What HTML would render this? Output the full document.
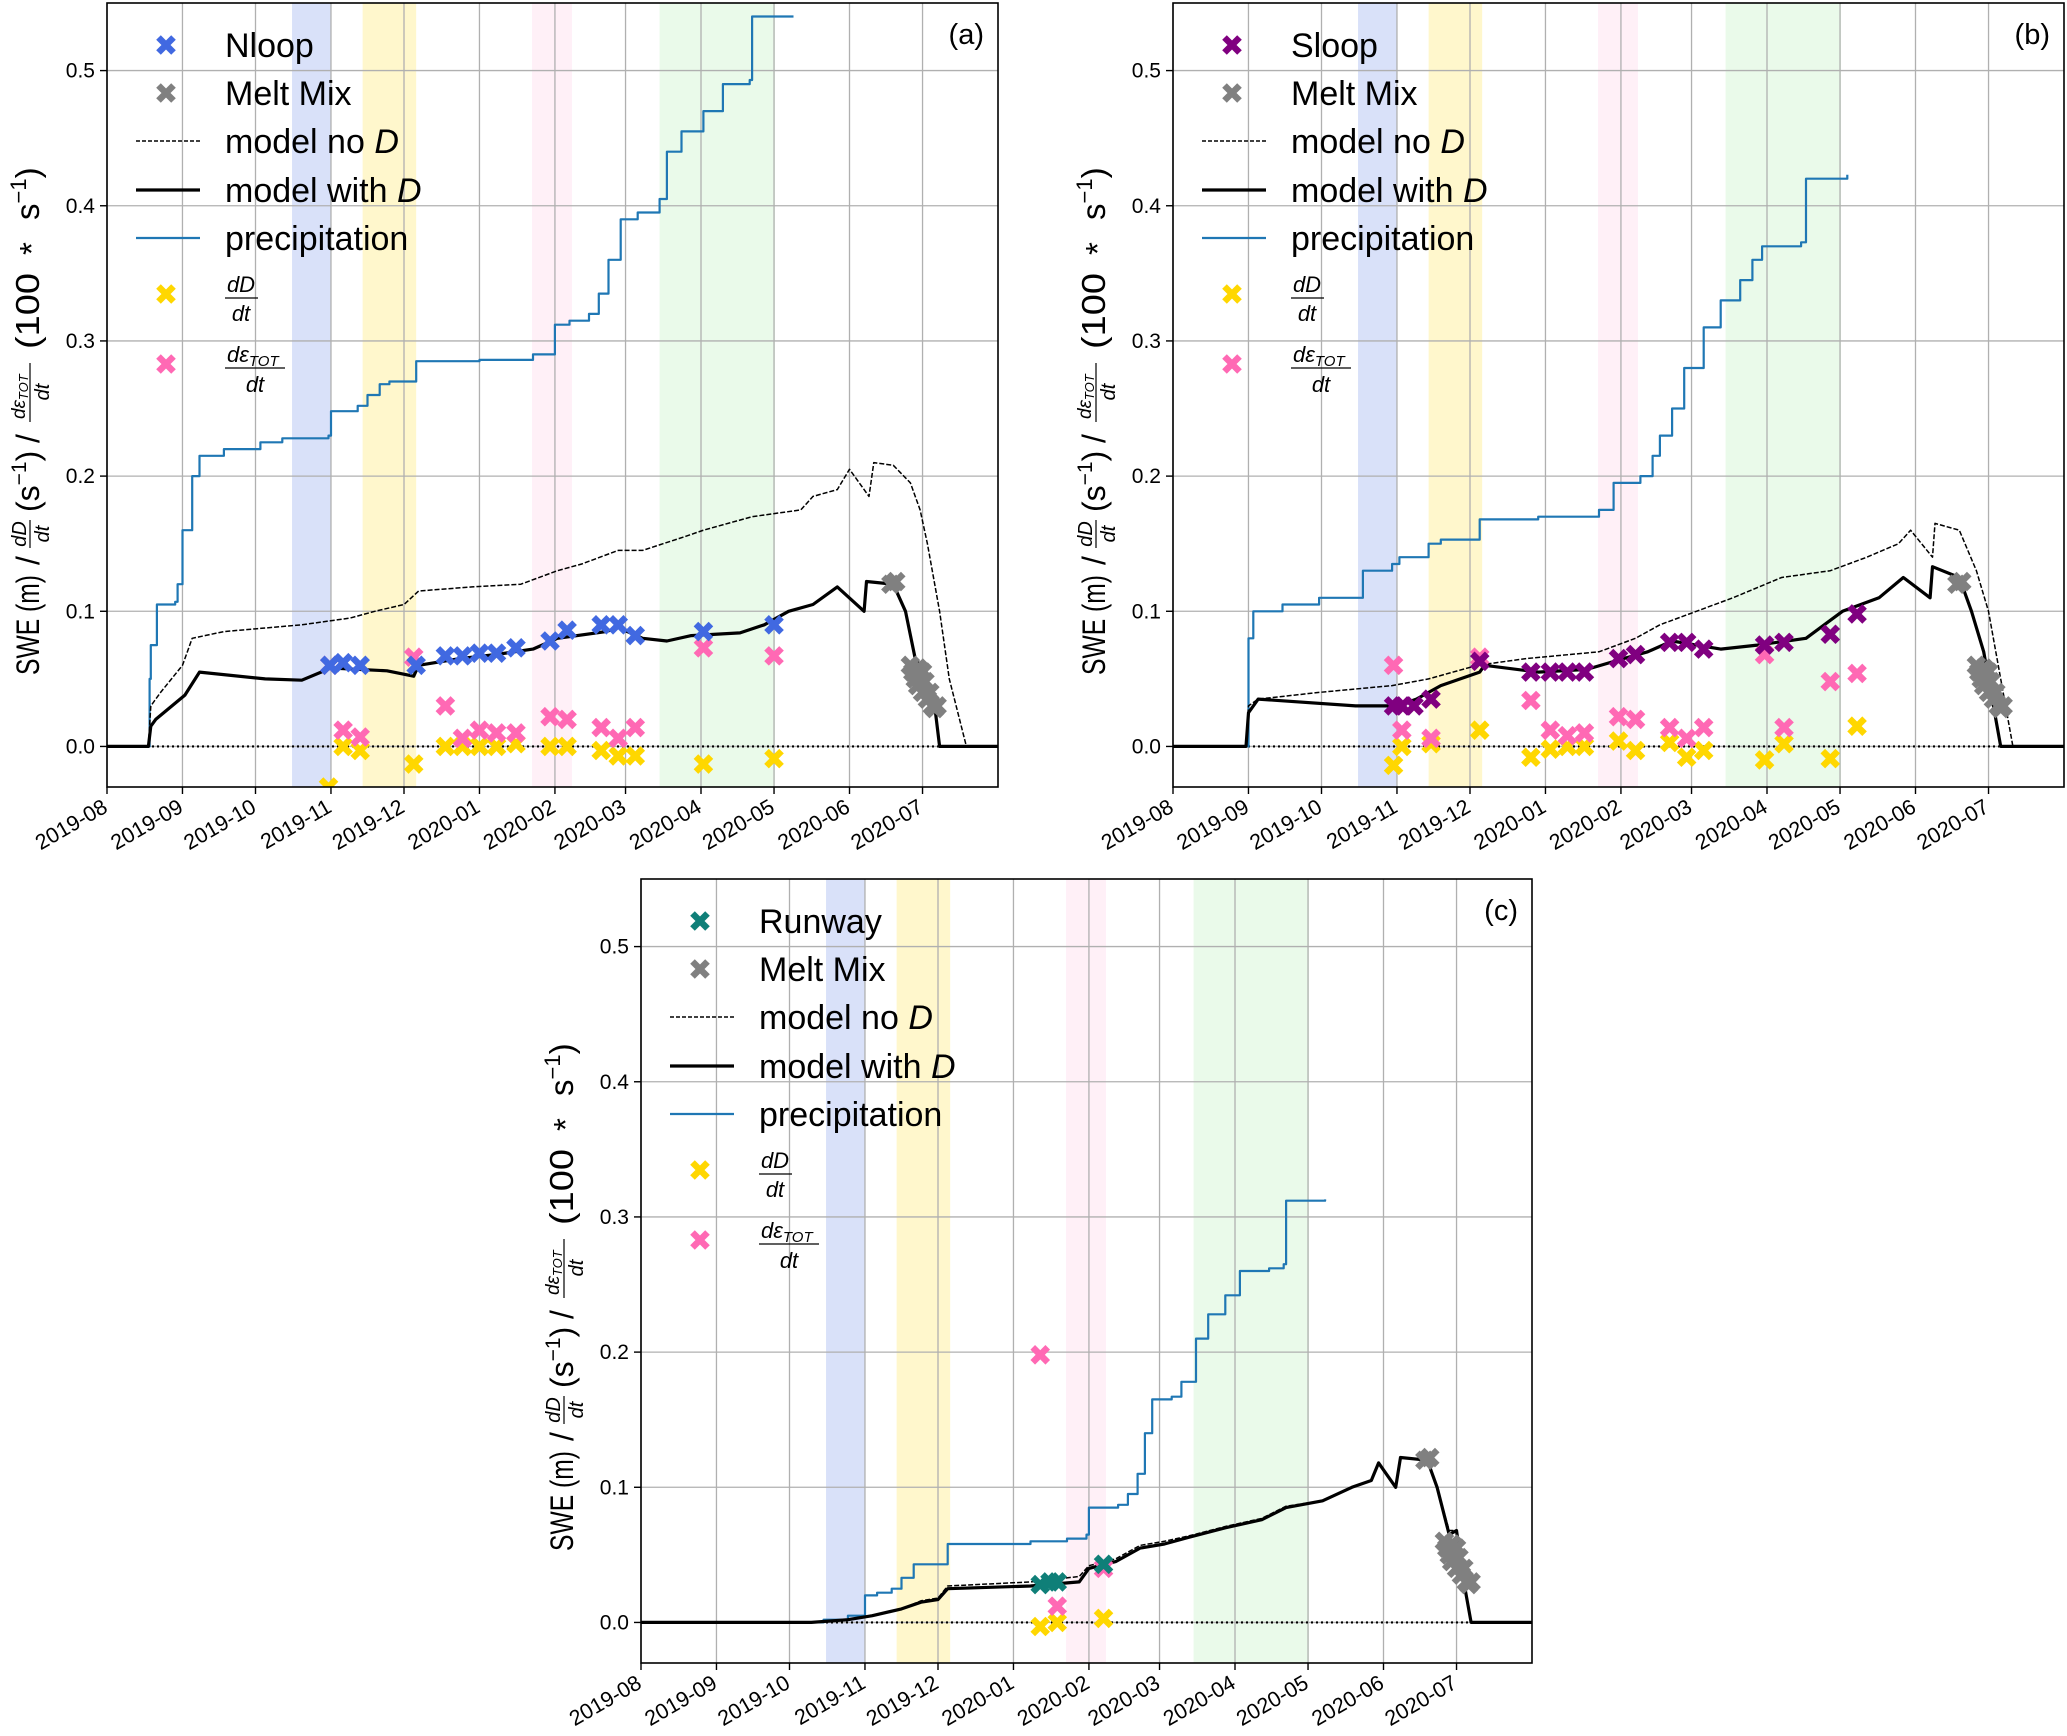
<!DOCTYPE html>
<html><head><meta charset="utf-8"><style>
html,body{margin:0;padding:0;background:#fff;}
svg{display:block;font-family:"Liberation Sans","DejaVu Sans",sans-serif;}
</style></head><body>
<svg id="fig" width="2067" height="1736" viewBox="0 0 2067 1736" xmlns="http://www.w3.org/2000/svg"></svg>
<script>
// ---- shared ----
const monthLabels = ["2019-08","2019-09","2019-10","2019-11","2019-12","2020-01","2020-02","2020-03","2020-04","2020-05","2020-06","2020-07"];
const monthDays = [0,31,61,92,122,153,184,213,244,274,305,335];
const yTicks = [0.0,0.1,0.2,0.3,0.4,0.5];
const bandStart = [76,105,174.6,227];
const bandEnd = [92,127,191,274.4];
const bandColors = ["rgba(65,105,225,0.2)","rgba(255,215,0,0.2)","rgba(255,105,180,0.1)","rgba(50,205,50,0.1)"];
const meltDays = [322,324,330,331,332,333,333,334,335,335,336,337,338,339,340,341];
const meltVals = [0.12,0.122,0.06,0.055,0.05,0.045,0.058,0.05,0.055,0.04,0.048,0.035,0.04,0.03,0.028,0.03];

// ---- panel a ----
const aPrecipDays = [0,17,17.5,18,20.5,28,29,31,35,38,48,63,72,91,92,103,107,112,116,127,153,175,184,190,198,202,206,211,218,227,230,236,245,253,264,265,282];
const aPrecipVals = [0,0,0.05,0.075,0.105,0.107,0.12,0.16,0.2,0.215,0.22,0.225,0.228,0.23,0.248,0.252,0.26,0.268,0.27,0.285,0.286,0.29,0.312,0.315,0.32,0.335,0.36,0.39,0.395,0.405,0.44,0.455,0.47,0.49,0.493,0.54,0.54];
const aNoDDays = [0,17,18,22,31,35,48,80,100,110,122,128,150,170,185,195,210,220,237,245,265,285,290,300,305,313,315,323,330,334,337,342,346,353,366];
const aNoDVals = [0,0,0.03,0.04,0.06,0.08,0.085,0.09,0.095,0.1,0.105,0.115,0.118,0.12,0.13,0.135,0.145,0.145,0.155,0.16,0.17,0.175,0.185,0.19,0.205,0.185,0.21,0.208,0.195,0.175,0.15,0.1,0.05,0,0];
const aWithDDays = [0,17,18,20,32,38,65,80,92,115,126,128,145,160,175,185,205,210,220,230,240,260,270,280,290,300,311,312,323,328,332,336,340,342,366];
const aWithDVals = [0,0,0.015,0.02,0.038,0.055,0.05,0.049,0.058,0.056,0.052,0.06,0.065,0.068,0.072,0.08,0.085,0.088,0.08,0.078,0.082,0.084,0.09,0.1,0.105,0.118,0.1,0.122,0.12,0.1,0.065,0.055,0.03,0,0];
const aSiteDays = [91.5,97,104,127,139,146,153,160,168,182,189,203,210,217,245,274];
const aSiteVals = [0.06,0.062,0.06,0.06,0.067,0.067,0.069,0.069,0.073,0.078,0.086,0.09,0.09,0.082,0.085,0.09];
const aPinkDays = [91.5,97,104,126,139,146,153,160,168,182,189,203,210,217,245,274];
const aPinkVals = [0.06,0.012,0.007,0.066,0.03,0.006,0.012,0.01,0.01,0.022,0.02,0.014,0.006,0.014,0.073,0.067];
const aYellowDays = [91,97,104,126,139,146,153,160,168,182,189,203,210,217,245,274];
const aYellowVals = [-0.03,0,-0.003,-0.013,0,0,0,0,0.002,0,0,-0.003,-0.007,-0.007,-0.013,-0.009];

// ---- panel b ----
const bPrecipDays = [0,30,31,33,45,60,78,90,93,105,110,126,150,175,181,192,197,200,205,210,218,225,233,238,242,258,260,277];
const bPrecipVals = [0,0,0.08,0.1,0.105,0.11,0.13,0.135,0.14,0.15,0.153,0.168,0.17,0.175,0.195,0.2,0.215,0.23,0.25,0.28,0.31,0.33,0.345,0.36,0.37,0.373,0.42,0.423];
const bNoDDays = [0,30,31,35,60,90,105,125,145,175,190,200,215,230,250,270,285,298,303,312,313,323,330,335,340,345,366];
const bNoDVals = [0,0,0.03,0.035,0.04,0.045,0.05,0.06,0.065,0.07,0.08,0.09,0.1,0.11,0.125,0.13,0.14,0.15,0.16,0.14,0.165,0.16,0.13,0.1,0.05,0,0];
const bWithDDays = [0,30,31,35,75,92,100,110,126,128,150,170,185,195,205,215,225,240,260,275,290,300,311,312,323,328,333,336,340,366];
const bWithDVals = [0,0,0.025,0.035,0.03,0.03,0.035,0.045,0.055,0.06,0.055,0.057,0.065,0.07,0.078,0.075,0.072,0.075,0.08,0.1,0.11,0.125,0.11,0.133,0.125,0.1,0.07,0.04,0,0];
const bSiteDays = [90.6,94,99,106,126,147,155,162,169,183,190,204,211,218,243,251,270,281];
const bSiteVals = [0.03,0.03,0.03,0.035,0.063,0.055,0.055,0.055,0.055,0.065,0.068,0.077,0.077,0.072,0.075,0.077,0.083,0.098];
const bPinkDays = [90.6,94,106,126,147,155,162,169,183,190,204,211,218,243,251,270,281];
const bPinkVals = [0.06,0.012,0.006,0.066,0.034,0.012,0.008,0.01,0.022,0.02,0.014,0.006,0.014,0.068,0.014,0.048,0.054];
const bYellowDays = [90.6,94,106,126,147,155,162,169,183,190,204,211,218,243,251,270,281];
const bYellowVals = [-0.014,0,0.002,0.012,-0.008,-0.002,0,0,0.004,-0.003,0.003,-0.008,-0.003,-0.01,0.002,-0.009,0.015];

// ---- panel c ----
const cPrecipDays = [0,70,75,85,91.5,92,97,103,107,112,122,126,160,175,183,184,196,200,204,207,210,218,222,228,233,240,246,258,264,265,281];
const cPrecipVals = [0,0,0.002,0.005,0.005,0.02,0.022,0.025,0.033,0.043,0.043,0.058,0.06,0.062,0.065,0.085,0.087,0.095,0.11,0.14,0.165,0.167,0.178,0.21,0.228,0.242,0.26,0.262,0.265,0.312,0.313];
const cNoDDays = [0,70,85,95,107,115,122,126,160,180,184,195,205,215,225,240,255,265,280,292,300,303,310,312,323,327,332,335,338,341,366];
const cNoDVals = [0,0,0.002,0.005,0.01,0.016,0.018,0.027,0.03,0.034,0.042,0.047,0.057,0.06,0.064,0.071,0.077,0.086,0.09,0.1,0.105,0.118,0.1,0.122,0.12,0.1,0.068,0.068,0.03,0,0];
const cWithDDays = [0,70,85,95,107,115,122,126,160,180,184,195,205,215,225,240,255,265,280,292,300,303,310,312,323,327,332,335,338,341,366];
const cWithDVals = [0,0,0.002,0.005,0.01,0.015,0.017,0.025,0.027,0.03,0.04,0.045,0.055,0.058,0.063,0.07,0.076,0.085,0.09,0.1,0.105,0.118,0.1,0.122,0.12,0.1,0.065,0.068,0.03,0,0];
const cSiteDays = [164,168,171,190];
const cSiteVals = [0.028,0.03,0.03,0.043];
const cPinkDays = [164,171,190];
const cPinkVals = [0.198,0.012,0.04];
const cYellowDays = [164,171,190];
const cYellowVals = [-0.003,0,0.003];

const NS = "http://www.w3.org/2000/svg";
const fig = document.getElementById('fig');
function mk(tag, attrs, parent){
  const e = document.createElementNS(NS, tag);
  for (const k in attrs) e.setAttribute(k, attrs[k]);
  (parent||fig).appendChild(e);
  return e;
}

function drawPanel(p){
  const L=p.left, T=p.top, W=891, H=784;
  const xs = d => L + d*W/366;
  const ys = v => T + (0.55 - v)/0.58*H;
  const g = mk('g',{});
  
  
  const clipId = 'clip'+p.id;
  const cp = mk('clipPath',{id:clipId},g);
  mk('rect',{x:L,y:T,width:W,height:H},cp);
  for (let i=0;i<bandStart.length;i++){
    const r = mk('rect',{x:xs(bandStart[i]),y:T,width:xs(bandEnd[i])-xs(bandStart[i]),height:H,fill:bandColors[i]},g);
    
    
  }
  monthDays.forEach(d=>{
    const l = mk('line',{x1:xs(d),x2:xs(d),y1:T,y2:T+H,stroke:'#b0b0b0','stroke-width':1.3},g);
    
    
  });
  yTicks.forEach(v=>{
    const l = mk('line',{x1:L,x2:L+W,y1:ys(v),y2:ys(v),stroke:'#b0b0b0','stroke-width':1.3},g);
    
    
  });
  const z = mk('line',{x1:L,x2:L+W,y1:ys(0),y2:ys(0),stroke:'#000','stroke-width':2.2,'stroke-dasharray':'2,3'},g);
  
  
  const cg = mk('g',{'clip-path':'url(#'+clipId+')'},g);
  function line(days, vals, attrs, name, step){
    let pts = [];
    days.forEach((d,i)=>{
      if (step && i>0) pts.push(xs(d).toFixed(1)+','+ys(vals[i-1]).toFixed(1));
      pts.push(xs(d).toFixed(1)+','+ys(vals[i]).toFixed(1));
    });
    const el = mk('polyline', Object.assign({points:pts.join(' '),fill:'none','stroke-linejoin':'round'},attrs), cg);
    
    
  }
  line(p.precipDays,p.precipVals,{stroke:'#1f77b4','stroke-width':2.2},'precipitation-line',true);
  line(p.noDDays,p.noDVals,{stroke:'#000','stroke-width':1.5,'stroke-dasharray':'5,2'},'model-no-d-line',false);
  line(p.withDDays,p.withDVals,{stroke:'#000','stroke-width':3.2},'model-with-d-line',false);
  function marks(days, vals, color, name){
    days.forEach((d,i)=>{
      const x=xs(d), y=ys(vals[i]), s=7.5;
      const m = mk('path',{d:`M${x-s},${y-s}L${x+s},${y+s}M${x-s},${y+s}L${x+s},${y-s}`,stroke:color,'stroke-width':6.5,fill:'none'},cg);
      
      
    });
  }
  marks(p.yellowDays,p.yellowVals,'#ffd700','dd-dt-marker');
  marks(p.pinkDays,p.pinkVals,'#ff69b4','deps-dt-marker');
  marks(meltDays,meltVals,'#808080','melt-mix-marker');
  marks(p.siteDays,p.siteVals,p.siteColor,'site-marker');
  const fr = mk('rect',{x:L,y:T,width:W,height:H,fill:'none',stroke:'#000','stroke-width':1.6},g);
  
  
  yTicks.forEach(v=>{
    mk('line',{x1:L-7,x2:L,y1:ys(v),y2:ys(v),stroke:'#000','stroke-width':1.4},g);
    const t = mk('text',{x:L-12,y:ys(v)+7,'text-anchor':'end','font-size':21},g);
    t.textContent = v.toFixed(1);
    
    
  });
  monthDays.forEach((d,i)=>{
    mk('line',{x1:xs(d),x2:xs(d),y1:T+H,y2:T+H+7,stroke:'#000','stroke-width':1.4},g);
    const t = mk('text',{x:0,y:0,'text-anchor':'end','font-size':21.5,transform:`translate(${xs(d)+2},${T+H+24}) rotate(-30)`},g);
    t.textContent = monthLabels[i];
    
    
  });
  const pl = mk('text',{x:L+W-14,y:T+41,'text-anchor':'end','font-size':29},g);
  pl.textContent = '('+p.id+')';
  
  
  const lg = mk('g',{},g);
  
  
  const mx=L+59, tx=L+118;
  const rows=[42,90,138,187,235];
  function lmark(y,color){
    const s=7.5;
    mk('path',{d:`M${mx-s},${y-s}L${mx+s},${y+s}M${mx-s},${y+s}L${mx+s},${y-s}`,stroke:color,'stroke-width':6.5},lg);
  }
  function ltext(y, html){
    const t = mk('text',{x:tx,y:T+y+12,'font-size':34},lg);
    t.innerHTML = html;
    
    
  }
  lmark(T+rows[0],p.siteColor); ltext(rows[0],p.siteName);
  lmark(T+rows[1],'#808080'); ltext(rows[1],'Melt Mix');
  mk('line',{x1:L+29,x2:L+93,y1:T+rows[2],y2:T+rows[2],stroke:'#000','stroke-width':1.4,'stroke-dasharray':'4,2'},lg);
  ltext(rows[2],'model no <tspan font-style="italic">D</tspan>');
  mk('line',{x1:L+29,x2:L+93,y1:T+rows[3],y2:T+rows[3],stroke:'#000','stroke-width':3.2},lg);
  ltext(rows[3],'model with <tspan font-style="italic">D</tspan>');
  mk('line',{x1:L+29,x2:L+93,y1:T+rows[4],y2:T+rows[4],stroke:'#1f77b4','stroke-width':2.2},lg);
  ltext(rows[4],'precipitation');
  lmark(T+291,'#ffd700');
  let t1 = mk('text',{x:tx+16,y:T+289,'font-size':22,'font-style':'italic','text-anchor':'middle'},lg); t1.textContent='dD';
  mk('line',{x1:tx,x2:tx+33,y1:T+295,y2:T+295,stroke:'#000','stroke-width':1.3},lg);
  let t2 = mk('text',{x:tx+16,y:T+318,'font-size':22,'font-style':'italic','text-anchor':'middle'},lg); t2.textContent='dt';
  lmark(T+361,'#ff69b4');
  let t3 = mk('text',{x:tx+2,y:T+359,'font-size':22,'font-style':'italic'},lg); t3.innerHTML='dε<tspan font-size="15" dy="4">TOT</tspan>';
  mk('line',{x1:tx,x2:tx+60,y1:T+365,y2:T+365,stroke:'#000','stroke-width':1.3},lg);
  let t4 = mk('text',{x:tx+30,y:T+389,'font-size':22,'font-style':'italic','text-anchor':'middle'},lg); t4.textContent='dt';
  // y label (rotated frame, u along text from bottom)
  const yl = mk('g',{transform:`translate(${L-68},${T+672}) rotate(-90)`},g);
  
  
  const a = mk('text',{x:0,y:0,'font-size':32,textLength:100,lengthAdjust:'spacingAndGlyphs'},yl); a.textContent='SWE (m)';
  const s1 = mk('text',{x:110,y:0,'font-size':32},yl); s1.textContent='/';
  const f1 = mk('text',{x:141,y:-13,'font-size':20,'font-style':'italic','text-anchor':'middle'},yl); f1.textContent='dD';
  mk('line',{x1:127,x2:155,y1:-9,y2:-9,stroke:'#000','stroke-width':1.2},yl);
  const f2 = mk('text',{x:141,y:10,'font-size':20,'font-style':'italic','text-anchor':'middle'},yl); f2.textContent='dt';
  const b = mk('text',{x:163,y:0,'font-size':32},yl); b.innerHTML='(s<tspan font-size="21" dy="-13">−1</tspan><tspan dy="13">)</tspan>';
  const s2 = mk('text',{x:232,y:0,'font-size':32},yl); s2.textContent='/';
  const f3 = mk('text',{x:256,y:-14,'font-size':19,'font-style':'italic'},yl); f3.innerHTML='dε<tspan font-size="13" dy="3">TOT</tspan>';
  mk('line',{x1:253,x2:312,y1:-9,y2:-9,stroke:'#000','stroke-width':1.2},yl);
  const f4 = mk('text',{x:283,y:10,'font-size':20,'font-style':'italic','text-anchor':'middle'},yl); f4.textContent='dt';
  const c1 = mk('text',{x:326,y:0,'font-size':33,textLength:76,lengthAdjust:'spacingAndGlyphs'},yl); c1.textContent='(100';
  const c2 = mk('text',{x:420,y:4,'font-size':33},yl); c2.textContent='*';
  const c3 = mk('text',{x:455,y:0,'font-size':33},yl); c3.innerHTML='s<tspan font-size="22" dy="-13">−1</tspan><tspan dy="13">)</tspan>';
}

drawPanel({id:'a',left:107,top:3,siteName:'Nloop',siteColor:'#4169e1',
  precipDays:aPrecipDays,precipVals:aPrecipVals,noDDays:aNoDDays,noDVals:aNoDVals,withDDays:aWithDDays,withDVals:aWithDVals,
  siteDays:aSiteDays,siteVals:aSiteVals,pinkDays:aPinkDays,pinkVals:aPinkVals,yellowDays:aYellowDays,yellowVals:aYellowVals});
drawPanel({id:'b',left:1173,top:3,siteName:'Sloop',siteColor:'#800080',
  precipDays:bPrecipDays,precipVals:bPrecipVals,noDDays:bNoDDays,noDVals:bNoDVals,withDDays:bWithDDays,withDVals:bWithDVals,
  siteDays:bSiteDays,siteVals:bSiteVals,pinkDays:bPinkDays,pinkVals:bPinkVals,yellowDays:bYellowDays,yellowVals:bYellowVals});
drawPanel({id:'c',left:641,top:879,siteName:'Runway',siteColor:'#0f7f78',
  precipDays:cPrecipDays,precipVals:cPrecipVals,noDDays:cNoDDays,noDVals:cNoDVals,withDDays:cWithDDays,withDVals:cWithDVals,
  siteDays:cSiteDays,siteVals:cSiteVals,pinkDays:cPinkDays,pinkVals:cPinkVals,yellowDays:cYellowDays,yellowVals:cYellowVals});
</script>
</body></html>
